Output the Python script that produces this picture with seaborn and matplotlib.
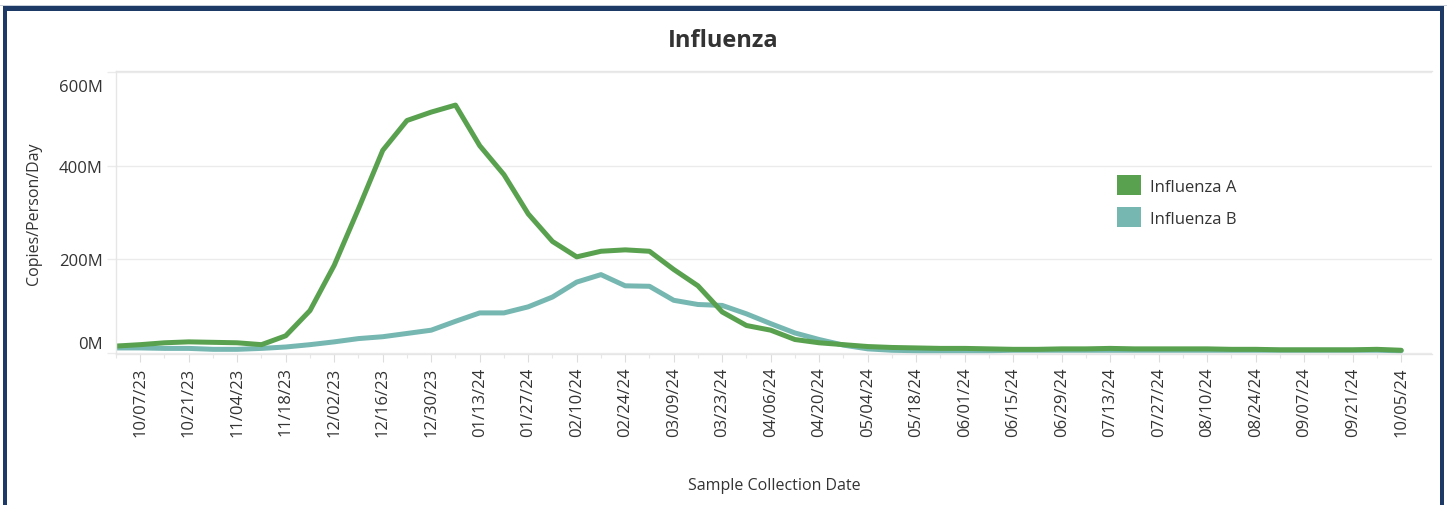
import pandas as pd
import matplotlib.pyplot as plt
import matplotlib.dates as mdates
from matplotlib.patches import Patch, Rectangle
from matplotlib.transforms import ScaledTranslation
import seaborn as sns

# weekly sample dates (first one sits just left of the visible axis)
fechas = pd.date_range('2023-09-30', '2024-10-05', freq='7D')

# Copies/Person/Day, millions
influenza_a = [14, 17, 21, 23, 22, 21, 17, 36, 90, 187, 308, 433, 497, 515, 530,
               443, 381, 297, 238, 205, 217, 220, 217, 178, 143, 87, 58, 48, 28,
               21, 17, 13, 11, 10, 9, 9, 8, 7, 7, 8, 8, 9, 8, 8, 8, 8, 7, 7, 6,
               6, 6, 6, 7, 5]
influenza_b = [10, 10, 9, 9, 7, 7, 9, 12, 17, 23, 30, 34, 41, 48, 67,
               85, 85, 98, 119, 151, 167, 143, 142, 112, 103, 101, 83, 62, 42,
               28, 16, 8, 5, 4, 4, 4, 4, 5, 5, 5, 5, 5, 5, 5, 5, 5, 5, 5, 5,
               5, 5, 5, 5, 4]

series = ['Influenza A', 'Influenza B']
colores = {'Influenza A': '#59a14f', 'Influenza B': '#76b7b2'}
yticks = [0, 200, 400, 600]
ylabels = ['0M', '200M', '400M', '600M']

df = pd.concat([
    pd.DataFrame({'fecha': fechas, 'valor': [v * 1e6 for v in influenza_a], 'serie': 'Influenza A'}),
    pd.DataFrame({'fecha': fechas, 'valor': [v * 1e6 for v in influenza_b], 'serie': 'Influenza B'}),
])

sns.set_style('white')
plt.rcParams['font.family'] = ['Open Sans', 'DejaVu Sans']

fig = plt.figure(figsize=(14.47, 5.06), dpi=100)
ax = fig.add_axes([116 / 1447, 151 / 506, (1432 - 116) / 1447, (355 - 72) / 506])

# B first so A sits on top, like the original
sns.lineplot(data=df, x='fecha', y='valor', hue='serie', hue_order=series[::-1],
             palette=colores, linewidth=3.6, ax=ax, legend=False)

ax.set_xlim(fechas[1] - pd.Timedelta(days=4.9), fechas[-1] + pd.Timedelta(days=8.9))
ax.set_ylim(-3e6, 603e6)

ax.set_xticks(fechas[1::2])
ax.set_xticks(fechas, minor=True)
ax.xaxis.set_major_formatter(mdates.DateFormatter('%m/%d/%y'))
plt.setp(ax.get_xticklabels(), rotation=90)
ax.tick_params(axis='x', which='major', length=6, width=0.8, color='#dddddd',
               labelsize=12, labelcolor='#333333', pad=3, bottom=True)
ax.tick_params(axis='x', which='minor', length=3, width=0.8, color='#e6e6e6', bottom=True)

ax.set_yticks([v * 1e6 for v in yticks])
ax.set_yticklabels(ylabels)
ax.tick_params(axis='y', length=6.5, width=1, color='#ebebeb', labelsize=12,
               labelcolor='#333333', pad=3, left=True)
# Tableau keeps the end labels inside the plot
etiquetas = ax.get_yticklabels()
etiquetas[0].set_transform(etiquetas[0].get_transform() +
                           ScaledTranslation(0, 11 / 100, fig.dpi_scale_trans))
etiquetas[-1].set_transform(etiquetas[-1].get_transform() +
                            ScaledTranslation(0, -13 / 100, fig.dpi_scale_trans))

ax.grid(axis='y', color='#ebebeb', linewidth=1)
for lado in ['left', 'top', 'bottom']:
    ax.spines[lado].set_color('#e6e6e6')
    ax.spines[lado].set_linewidth(1)
ax.spines['right'].set_visible(False)

ax.set_xlabel('Sample Collection Date', fontsize=11.5, color='#333333', labelpad=29)
ax.set_ylabel('Copies/Person/Day', fontsize=11.5, color='#333333', labelpad=12)

fig.text(0.5, 1 - 41 / 506, 'Influenza', ha='center', va='center',
         fontsize=17, fontweight='bold', color='#333333')

handles = [Patch(facecolor=colores[s], edgecolor='none') for s in series]
fig.legend(handles, series, loc='upper left', bbox_to_anchor=(1109 / 1447, 1 - 168 / 506),
           frameon=False, fontsize=12, handlelength=1.4, handleheight=1.45,
           handletextpad=0.55, labelspacing=0.72, borderpad=0, labelcolor='#333333')

# dashboard frame
azul = '#1d3a66'
fig.add_artist(Rectangle((0, 1 - 7 / 506), 1, 1.5 / 506, transform=fig.transFigure,
                         facecolor='#c7cfdb', edgecolor='none'))
fig.add_artist(Rectangle((3 / 1447, 1 - 11.5 / 506), 1441 / 1447, 4.5 / 506,
                         transform=fig.transFigure, facecolor=azul, edgecolor='none'))
fig.add_artist(Rectangle((3 / 1447, 0), 4 / 1447, 1 - 7 / 506, transform=fig.transFigure,
                         facecolor=azul, edgecolor='none'))
fig.add_artist(Rectangle((1440 / 1447, 0), 4 / 1447, 1 - 7 / 506, transform=fig.transFigure,
                         facecolor=azul, edgecolor='none'))

fig.savefig('out.png', dpi=100)
